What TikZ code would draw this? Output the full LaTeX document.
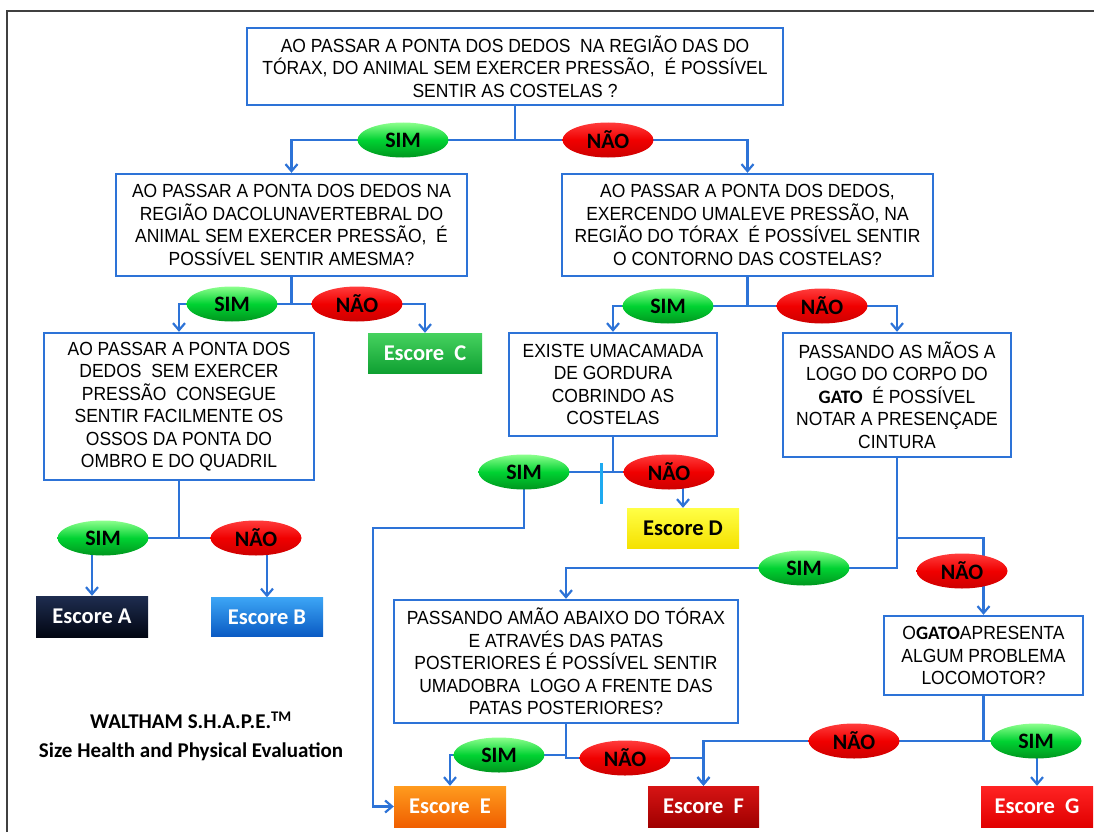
\documentclass[tikz,border=0pt]{standalone}
\usepackage{fontspec}
\setmainfont{Liberation Sans}
\newfontfamily\boxfont[FakeStretch=0.92]{Liberation Sans}
\newfontfamily\calfont{Carlito}
\usetikzlibrary{shapes.geometric,arrows.meta,backgrounds}
\definecolor{lineblue}{RGB}{45,115,215}
\definecolor{tickblue}{RGB}{30,170,240}
\tikzset{
  qbox/.style={draw=lineblue, line width=2.4pt, fill=white, rectangle, align=center, inner sep=2pt,
    font=\boxfont\fontsize{19}{22.5}\selectfont},
  yesell/.style={ellipse, minimum width=91pt, minimum height=35pt, inner sep=0pt,
    top color=green!45!white, bottom color={rgb,255:red,0;green,150;blue,30}, middle color={rgb,255:red,0;green,210;blue,50},
    font=\calfont\bfseries\fontsize{22}{22}\selectfont},
  noell/.style={ellipse, minimum width=91pt, minimum height=35pt, inner sep=0pt,
    top color={rgb,255:red,255;green,60;blue,60}, bottom color={rgb,255:red,205;green,0;blue,0}, middle color={rgb,255:red,240;green,0;blue,0},
    font=\calfont\bfseries\fontsize{22}{22}\selectfont},
  scorebox/.style={rectangle, minimum width=112pt, minimum height=41pt, inner sep=0pt, text=white,
    font=\calfont\bfseries\fontsize{22.5}{22.5}\selectfont},
  conn/.style={draw=lineblue, line width=2.4pt},
  arr/.style={conn, -{Straight Barb[length=7pt,width=12pt,line width=2.2pt]}},
}
\begin{document}
\begin{tikzpicture}[x=1pt,y=-1pt]
\useasboundingbox (0,0) rectangle (1094,832);
\draw[line width=2pt, black!75] (7,832) -- (7,11) -- (1094,11);

% question boxes
\node[qbox, minimum width=536pt, minimum height=77pt] (b1) at (515,66.5)
  {AO PASSAR A PONTA DOS DEDOS \ NA REGIÃO DAS DO\\TÓRAX, DO ANIMAL SEM EXERCER PRESSÃO, \ É POSSÍVEL\\SENTIR AS COSTELAS ?};
\node[qbox, minimum width=351pt, minimum height=102pt] (b2) at (291.5,225)
  {AO PASSAR A PONTA DOS DEDOS NA\\REGIÃO DACOLUNAVERTEBRAL DO\\ANIMAL SEM EXERCER PRESSÃO, \ É\\POSSÍVEL SENTIR AMESMA?};
\node[qbox, minimum width=371pt, minimum height=102pt] (b3) at (747.5,225)
  {AO PASSAR A PONTA DOS DEDOS,\\EXERCENDO UMALEVE PRESSÃO, NA\\REGIÃO DO TÓRAX \ É POSSÍVEL SENTIR\\O CONTORNO DAS COSTELAS?};
\node[qbox, minimum width=270pt, minimum height=147pt] (b4) at (179,406.5)
  {AO PASSAR A PONTA DOS\\DEDOS \ SEM EXERCER\\PRESSÃO \ CONSEGUE\\SENTIR FACILMENTE OS\\OSSOS DA PONTA DO\\OMBRO E DO QUADRIL};
\node[qbox, minimum width=208pt, minimum height=103pt] (bex) at (613,384.5)
  {EXISTE UMACAMADA\\DE GORDURA\\COBRINDO AS\\COSTELAS};
\node[qbox, minimum width=228pt, minimum height=124pt] (bm) at (897,395)
  {PASSANDO AS MÃOS A\\LOGO DO CORPO DO\\{\calfont\bfseries GATO} \ É POSSÍVEL\\NOTAR A PRESENÇADE\\CINTURA};
\node[qbox, minimum width=344pt, minimum height=123pt] (b5) at (566,661.5)
  {PASSANDO AMÃO ABAIXO DO TÓRAX\\E ATRAVÉS DAS PATAS\\POSTERIORES É POSSÍVEL SENTIR\\UMADOBRA \ LOGO A FRENTE DAS\\PATAS POSTERIORES?};
\node[qbox, minimum width=199pt, minimum height=79pt] (b6) at (983.5,655.5)
  {O{\calfont\bfseries GATO}APRESENTA\\ALGUM PROBLEMA\\LOCOMOTOR?};

% answer ellipses
\node[yesell] (s1) at (403,140) {SIM};
\node[noell]  (n1) at (608,140) {NÃO};
\node[yesell] (s2) at (232,304) {SIM};
\node[noell]  (n2) at (357,304) {NÃO};
\node[yesell] (s3) at (668,306) {SIM};
\node[noell]  (n3) at (822,306) {NÃO};
\node[yesell] (sA) at (103,538) {SIM};
\node[noell]  (nB) at (256,538) {NÃO};
\node[yesell] (sD) at (524,472) {SIM};
\node[noell]  (nD) at (669,472) {NÃO};
\node[yesell] (s5) at (804,568) {SIM};
\node[noell]  (n6) at (962,571) {NÃO};
\node[yesell] (sE) at (499,755) {SIM};
\node[noell]  (nF) at (625,758) {NÃO};
\node[noell]  (nG) at (854,741) {NÃO};
\node[yesell] (sG) at (1036,741) {SIM};

% score boxes
\node[scorebox, top color={rgb,255:red,30;green,45;blue,80}, bottom color={rgb,255:red,2;green,6;blue,18}] (escA) at (92,616.5) {Escore A};
\node[scorebox, minimum height=39pt, top color={rgb,255:red,60;green,165;blue,245}, bottom color={rgb,255:red,10;green,90;blue,195}] (escB) at (267,617) {Escore B};
\node[scorebox, minimum width=114pt, minimum height=40pt, top color={rgb,255:red,70;green,210;blue,95}, bottom color={rgb,255:red,15;green,160;blue,50}] (escC) at (425,353) {Escore~ C};
\node[scorebox, minimum height=40pt, text=black, top color={rgb,255:red,255;green,255;blue,70}, bottom color={rgb,255:red,245;green,225;blue,0}] (escD) at (683,528) {Escore D};
\node[scorebox, top color={rgb,255:red,255;green,155;blue,30}, bottom color={rgb,255:red,240;green,95;blue,0}] (escE) at (450,806.5) {Escore~ E};
\node[scorebox, minimum width=111pt, top color={rgb,255:red,215;green,20;blue,20}, bottom color={rgb,255:red,160;green,0;blue,0}] (escF) at (703.5,806.5) {Escore~ F};
\node[scorebox, top color={rgb,255:red,255;green,35;blue,35}, bottom color={rgb,255:red,225;green,0;blue,0}] (escG) at (1037,806.5) {Escore~ G};

% title
\node[align=center, font=\calfont\bfseries\fontsize{21}{29}\selectfont] (title) at (191,736.5)
  {WALTHAM S.H.A.P.E.\textsuperscript{TM}\\Size Health and Physical Evaluation};

% helper coordinates
\path (bm.south) ++(0,80) coordinate (kG);
\coordinate (kE) at (373,528);

% connectors
\begin{scope}[on background layer]
\draw[conn] (b1.south) |- (s1.center);
\draw[conn] (b1.south) |- (n1.center);
\draw[arr] (s1.center) -| (b2.north);
\draw[arr] (n1.center) -| (b3.north);

\draw[conn] (b2.south) |- (s2.center);
\draw[conn] (b2.south) |- (n2.center);
\draw[arr] (s2.center) -| (b4.north);
\draw[arr] (n2.center) -| (escC.north);

\draw[conn] (b3.south) |- (s3.center);
\draw[conn] (b3.south) |- (n3.center);
\draw[arr] (s3.center) -| (bex.north);
\draw[arr] (n3.center) -| (bm.north);

\draw[conn] (b4.south) |- (sA.center);
\draw[conn] (b4.south) |- (nB.center);
\draw[arr] (sA.center) -| (escA.north);
\draw[arr] (nB.center) -| (escB.north);

\draw[conn] (bex.south) |- (sD.center);
\draw[conn] (bex.south) |- (nD.center);
\draw[arr] (nD.center -| escD.north) -- (escD.north);
\draw[arr] (sD.center) |- (kE) |- (escE.west);

\draw[conn] (bm.south) |- (s5.center);
\draw[arr] (s5.center) -| (b5.north);
\draw[arr] (kG) -| (b6.north);

\draw[conn] (b5.south) |- (sE.center);
\draw[conn] (b5.south) |- (nF.center);
\draw[arr] (sE.center) -| (escE.north);
\draw[arr] (nF.center) -| (escF.north);

\draw[conn] (b6.south) |- (nG.center);
\draw[conn] (b6.south) |- (sG.center);
\draw[arr] (nG.center) -| (escF.north);
\draw[arr] (sG.center -| escG.north) -- (escG.north);
\end{scope}

% light blue tick mark
\draw[tickblue, line width=3pt] (601,463) -- (601,504);
\end{tikzpicture}
\end{document}
